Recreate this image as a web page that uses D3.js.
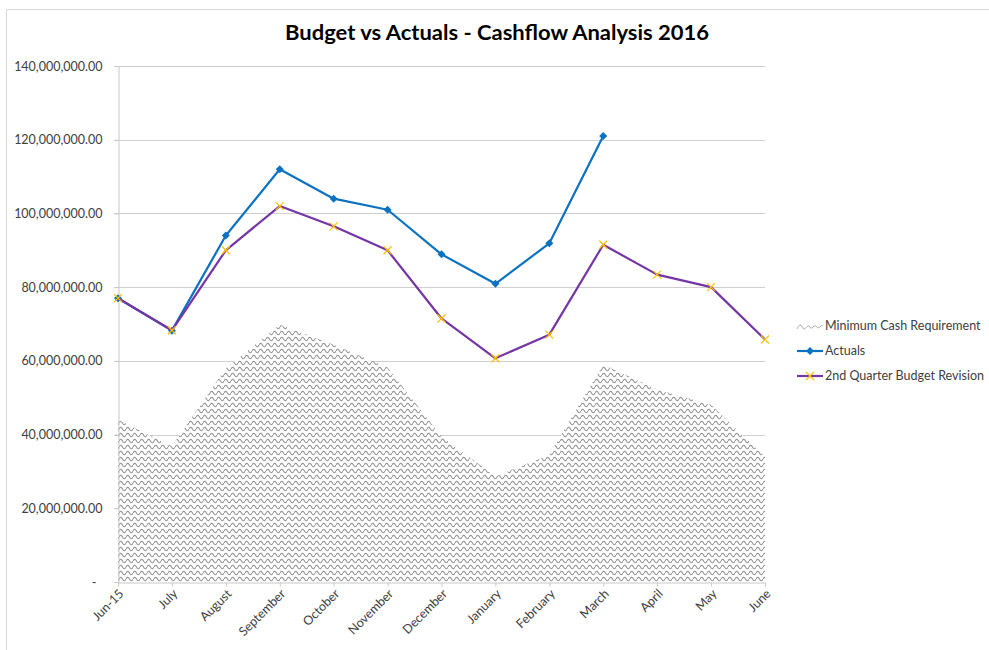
<!DOCTYPE html>
<html>
<head>
<meta charset="utf-8">
<script src="https://cdn.jsdelivr.net/npm/d3@7"></script>
<style>
  html, body { margin: 0; padding: 0; background: #fff; }
  svg { display: block; }
  text { font-family: Lato, "Open Sans", "Noto Sans", sans-serif; }
</style>
</head>
<body>
<svg id="chart" width="989" height="650"></svg>
<script>
const categories = ["Jun-15","July","August","September","October","November","December","January","February","March","April","May","June"];
const minCashRequirement = [44000000, 36800000, 58000000, 69800000, 64400000, 58200000, 39500000, 28600000, 34500000, 59000000, 52200000, 48100000, 34000000];
const actuals = [77000000, 68200000, 94000000, 112000000, 104000000, 101000000, 88900000, 80900000, 91900000, 121000000, null, null, null];
const budgetRevision = [77000000, 68300000, 90000000, 102000000, 96500000, 90000000, 71500000, 60700000, 67100000, 91500000, 83400000, 80000000, 65800000];
const yTicks = [0, 20000000, 40000000, 60000000, 80000000, 100000000, 120000000, 140000000];
const title = "Budget vs Actuals - Cashflow Analysis 2016";
const seriesNames = ["Minimum Cash Requirement", "Actuals", "2nd Quarter Budget Revision"];

const svg = d3.select("#chart");
const plotL = 118, plotR = 765, plotT = 66, plotB = 582;

// chart border
svg.append("rect").attr("x", 6.5).attr("y", 9.5).attr("width", 1000).attr("height", 700)
  .attr("fill", "#fff").attr("stroke", "#d9d9d9").attr("stroke-width", 1);

// wave pattern
const defs = svg.append("defs");
const pat = defs.append("pattern").attr("id", "wave").attr("patternUnits", "userSpaceOnUse")
  .attr("width", 7).attr("height", 6);
pat.append("rect").attr("width", 7).attr("height", 6).attr("fill", "#fff");
pat.append("path").attr("d", "M0,3 C1.2,0.6 2.3,0.6 3.5,3 C4.7,5.4 5.8,5.4 7,3")
  .attr("fill", "none").attr("stroke", "#8f8f8f").attr("stroke-width", 1.05);

const x = d3.scalePoint().domain(categories).range([plotL, plotR]);
const y = d3.scaleLinear().domain([0, 140000000]).range([plotB, plotT]);

// gridlines
svg.append("g").selectAll("line").data(yTicks.filter(d => d > 0)).join("line")
  .attr("x1", plotL - 4).attr("x2", plotR)
  .attr("y1", d => Math.round(y(d)) + 0.5).attr("y2", d => Math.round(y(d)) + 0.5)
  .attr("stroke", "#cfcfcf").attr("stroke-width", 1);

// area
const area = d3.area().x((d, i) => x(categories[i])).y0(y(0)).y1(d => y(d));
svg.append("path").datum(minCashRequirement).attr("d", area).attr("fill", "url(#wave)");

// y axis
const yAxis = d3.axisLeft(y).tickValues(yTicks).tickSize(4).tickPadding(12)
  .tickFormat(d => d === 0 ? "-" : d3.format(",.2f")(d));
const gy = svg.append("g").attr("transform", `translate(${plotL + 0.5},0)`).call(yAxis);
gy.select(".domain").attr("stroke", "#c8c8c8");
gy.selectAll(".tick line").attr("stroke", "#c8c8c8");
gy.selectAll(".tick text").attr("fill", "#404040").style("font-size", "12.5px")
  .attr("dx", d => d === 0 ? -6 : 0);

// x axis
const xAxis = d3.axisBottom(x).tickSize(4).tickSizeOuter(0);
const gx = svg.append("g").attr("transform", `translate(0,${plotB + 0.5})`).call(xAxis);
gx.select(".domain").attr("stroke", "#c8c8c8");
gx.selectAll(".tick line").attr("stroke", "#c8c8c8");
gx.selectAll(".tick text").attr("fill", "#404040").style("font-size", "12.5px")
  .attr("text-anchor", "end").attr("dy", null).attr("y", 0)
  .attr("transform", "translate(6,12) rotate(-45)");

// actuals line
const line = d3.line().defined(d => d != null).x((d, i) => x(categories[i])).y(d => y(d));
svg.append("path").datum(actuals).attr("d", line).attr("fill", "none")
  .attr("stroke", "#0b72c2").attr("stroke-width", 2.2).attr("stroke-linejoin", "round");
svg.append("g").selectAll("path").data(actuals.map((v, i) => ({v, c: categories[i]})).filter(d => d.v != null))
  .join("path")
  .attr("transform", d => `translate(${x(d.c)},${y(d.v)})`)
  .attr("d", "M0,-4 L4,0 L0,4 L-4,0 Z").attr("fill", "#0b72c2");

// budget line
svg.append("path").datum(budgetRevision).attr("d", line).attr("fill", "none")
  .attr("stroke", "#7535a5").attr("stroke-width", 2.2).attr("stroke-linejoin", "round");
svg.append("g").selectAll("path").data(budgetRevision.map((v, i) => ({v, c: categories[i]})))
  .join("path")
  .attr("transform", d => `translate(${x(d.c)},${y(d.v)})`)
  .attr("d", "M-4,-4 L4,4 M-4,4 L4,-4").attr("stroke", "#ffc000").attr("stroke-width", 1.2).attr("fill", "none");

// title
svg.append("text").attr("x", 497).attr("y", 40).attr("text-anchor", "middle")
  .style("font-size", "20px").style("font-weight", "bold").attr("fill", "#000")
  .attr("textLength", 424).attr("lengthAdjust", "spacingAndGlyphs").text(title);

// legend
const lg = svg.append("g");
const rows = [326, 351, 376];
lg.append("path").attr("d", "M797,329 C799,324 801,324 803,328 C805,332 807,323 810,327 C812,331 814,323 817,327 C819,330 821,324 823,326")
  .attr("fill", "none").attr("stroke", "#aaa").attr("stroke-width", 1);
lg.append("line").attr("x1", 797).attr("x2", 823).attr("y1", rows[1]).attr("y2", rows[1])
  .attr("stroke", "#0b72c2").attr("stroke-width", 2.2);
lg.append("path").attr("transform", `translate(810,${rows[1]})`).attr("d", "M0,-4 L4,0 L0,4 L-4,0 Z").attr("fill", "#0b72c2");
lg.append("line").attr("x1", 797).attr("x2", 823).attr("y1", rows[2]).attr("y2", rows[2])
  .attr("stroke", "#7535a5").attr("stroke-width", 2.2);
lg.append("path").attr("transform", `translate(810,${rows[2]})`).attr("d", "M-4,-4 L4,4 M-4,4 L4,-4")
  .attr("stroke", "#ffc000").attr("stroke-width", 1.2);
lg.selectAll("text").data(seriesNames).join("text")
  .attr("x", 825).attr("y", (d, i) => rows[i]).attr("dy", "0.35em")
  .attr("fill", "#404040").style("font-size", "12.5px").text(d => d);
</script>
</body>
</html>
